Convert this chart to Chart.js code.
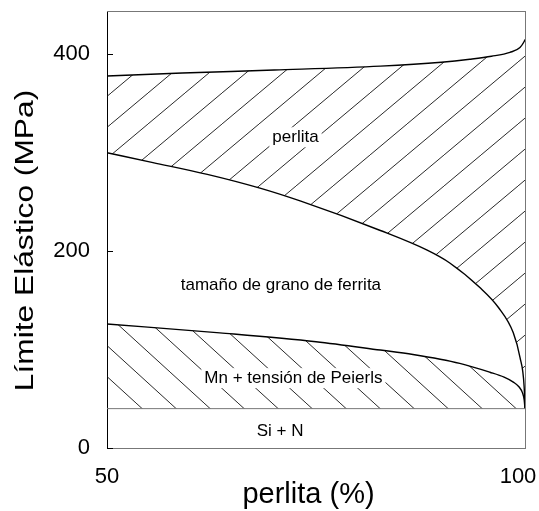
<!DOCTYPE html>
<html>
<head>
<meta charset="utf-8">
<script src="https://cdn.jsdelivr.net/npm/chart.js@4"></script>
<style>
html,body{margin:0;padding:0;background:#fff;}
#wrap{width:539px;height:511px;}
</style>
</head>
<body>
<div id="wrap"><canvas id="c" width="539" height="511"></canvas></div>
<script>
// ---- data ----
const xAxisTicks = [50, 100];
const yAxisTicks = [0, 200, 400];
const xTitle = 'perlita (%)';
const yTitle = 'Límite Elástico (MPa)';

const siN_x = [50, 100];
const siN_y = [40, 40];

const mn_x = [50, 63.5, 75, 82.7, 86.6, 92.2, 95.8, 97.5, 98.6, 99.3, 99.7, 99.9, 100];
const mn_y = [126, 117, 108, 99.5, 95, 86, 77, 72, 67, 62, 56, 49, 40];

const ferr_x = [50, 55.5, 62, 68.3, 73.1, 82.7, 88.3, 91, 94.6, 96.8, 98.6, 99.4, 99.9, 100];
const ferr_y = [300, 290, 278, 264, 251, 221, 201, 188, 163, 143, 117, 92, 62, 40];

const perl_x = [50, 59, 70, 82.7, 90, 93.4, 96, 98.2, 99.4, 99.9, 100];
const perl_y = [378, 381, 384, 388, 392, 395, 398, 402, 407, 413, 415];

const regionLabels = [
  {text: 'perlita', x: 72.55, y: 315.7, box: true},
  {text: 'tamaño de grano de ferrita', x: 70.8, y: 165.5, box: false},
  {text: 'Mn + tensión de Peierls', x: 72.3, y: 71, box: true},
  {text: 'Si + N', x: 70.7, y: 16.8, box: false}
];

const toPts = (xs, ys) => xs.map((x, i) => ({x: x, y: ys[i]}));

function hatch(w, h, dir) {
  const c = document.createElement('canvas');
  c.width = w; c.height = h;
  const g = c.getContext('2d');
  g.strokeStyle = '#111';
  g.lineWidth = 0.9;
  g.beginPath();
  for (let k = -1; k <= 1; k++) {
    if (dir === '/') { g.moveTo(k * w, h); g.lineTo(k * w + w, 0); }
    else { g.moveTo(k * w, 0); g.lineTo(k * w + w, h); }
  }
  g.stroke();
  return g.createPattern(c, 'repeat');
}
const patSlash = hatch(37, 31, '/');
const patBack = hatch(34, 31, '\\');

const FONT = "'Liberation Sans', Arial, sans-serif";

const decor = {
  id: 'decor',
  afterDatasetsDraw(chart) {
    const ctx = chart.ctx;
    const a = chart.chartArea;
    const xs = chart.scales.x, ys = chart.scales.y;
    ctx.save();
    // frame top and right
    ctx.strokeStyle = '#777';
    ctx.lineWidth = 1;
    ctx.beginPath();
    ctx.moveTo(a.left, a.top + 0.5); ctx.lineTo(a.right, a.top + 0.5);
    ctx.moveTo(a.right + 0.5, a.top); ctx.lineTo(a.right + 0.5, a.bottom);
    ctx.stroke();
    // inward y ticks
    ctx.strokeStyle = '#000';
    ctx.beginPath();
    yAxisTicks.forEach(v => {
      const p = Math.round(ys.getPixelForValue(v)) + 0.5;
      ctx.moveTo(a.left, p); ctx.lineTo(a.left + 6, p);
    });
    ctx.stroke();
    // region labels
    ctx.font = '17px ' + FONT;
    ctx.textAlign = 'center';
    ctx.textBaseline = 'middle';
    regionLabels.forEach(l => {
      const px = xs.getPixelForValue(l.x), py = ys.getPixelForValue(l.y);
      if (l.box) {
        const w = ctx.measureText(l.text).width;
        ctx.fillStyle = '#fff';
        ctx.fillRect(px - w / 2 - 3, py - 10, w + 6, 20);
      }
      ctx.fillStyle = '#000';
      ctx.fillText(l.text, px, py);
    });
    // x tick labels
    ctx.font = '22px ' + FONT;
    ctx.fillStyle = '#000';
    ctx.textBaseline = 'alphabetic';
    ctx.textAlign = 'center';
    ctx.fillText(String(xAxisTicks[0]), xs.getPixelForValue(xAxisTicks[0]), a.bottom + 35);
    ctx.fillText(String(xAxisTicks[1]), xs.getPixelForValue(xAxisTicks[1]) - 7, a.bottom + 35);
    // axis titles
    ctx.font = '29px ' + FONT;
    ctx.fillText(xTitle, 308.5, 503);
    ctx.save();
    ctx.translate(33, 240.5);
    ctx.rotate(-Math.PI / 2);
    ctx.scale(1.22, 1);
    ctx.font = '26px ' + FONT;
    ctx.fillText(yTitle, 0, 0);
    ctx.restore();
    ctx.restore();
  }
};

const lineCommon = {
  borderColor: '#000',
  borderWidth: 1.4,
  pointRadius: 0,
  cubicInterpolationMode: 'monotone',
  showLine: true
};

new Chart(document.getElementById('c'), {
  type: 'scatter',
  data: {
    datasets: [
      Object.assign({}, lineCommon, {label: 'Si + N', data: toPts(siN_x, siN_y), borderColor: '#777', borderWidth: 1, fill: false}),
      Object.assign({}, lineCommon, {label: 'Mn + tensión de Peierls', data: toPts(mn_x, mn_y), fill: '-1', backgroundColor: patBack}),
      Object.assign({}, lineCommon, {label: 'tamaño de grano de ferrita', data: toPts(ferr_x, ferr_y), fill: false}),
      Object.assign({}, lineCommon, {label: 'perlita', data: toPts(perl_x, perl_y), fill: '-1', backgroundColor: patSlash})
    ]
  },
  options: {
    responsive: false,
    animation: false,
    layout: {padding: {left: 0, right: 14, top: 11, bottom: 0}},
    plugins: {legend: {display: false}, tooltip: {enabled: false}},
    scales: {
      x: {
        type: 'linear', min: 50, max: 100,
        grid: {display: false, drawTicks: false},
        border: {display: true, color: '#777', width: 1},
        ticks: {display: false},
        afterFit(s) { s.height = 63; s.paddingLeft = 0; s.paddingRight = 0; }
      },
      y: {
        type: 'linear', min: 0, max: 444,
        afterBuildTicks(s) { s.ticks = yAxisTicks.map(v => ({value: v})); },
        grid: {display: false, drawTicks: false},
        border: {display: true, color: '#000', width: 1},
        ticks: {color: '#000', padding: 17, font: {family: FONT, size: 22}},
        afterFit(s) { s.width = 107; s.paddingTop = 0; s.paddingBottom = 0; }
      }
    }
  },
  plugins: [decor]
});
</script>
</body>
</html>
